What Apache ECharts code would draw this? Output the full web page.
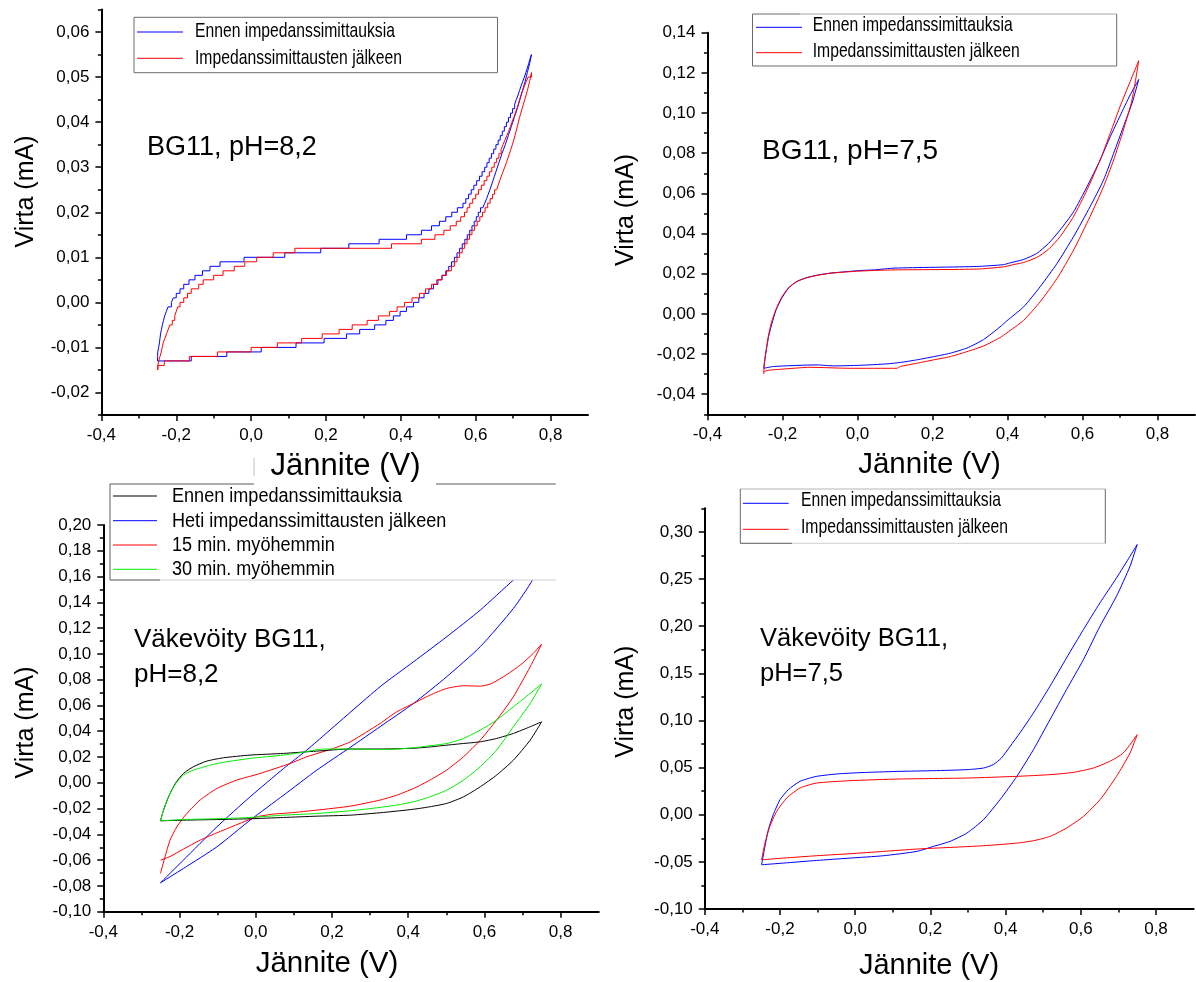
<!DOCTYPE html>
<html><head><meta charset="utf-8">
<script src="https://cdn.jsdelivr.net/npm/echarts@6.0.0/dist/echarts.min.js"></script>
<style>html,body{margin:0;padding:0;background:#fff}#c{width:1196px;height:982px}</style>
</head><body><div id="c"></div>
<script>
// ---------------- DATA (voltage V, current mA) ----------------
const xTickValues = [-0.4,-0.2,0,0.2,0.4,0.6,0.8];
const xMinorValues = [-0.3,-0.1,0.1,0.3,0.5,0.7];
const p1_yTicks = [-0.02,-0.01,0,0.01,0.02,0.03,0.04,0.05,0.06];
const p1_yMinor = [-0.025,-0.015,-0.005,0.005,0.015,0.025,0.035,0.045,0.055,0.065];
const p2_yTicks = [-0.04,-0.02,0,0.02,0.04,0.06,0.08,0.10,0.12,0.14];
const p2_yMinor = [-0.05,-0.03,-0.01,0.01,0.03,0.05,0.07,0.09,0.11,0.13];
const p3_yTicks = [-0.10,-0.08,-0.06,-0.04,-0.02,0,0.02,0.04,0.06,0.08,0.10,0.12,0.14,0.16,0.18,0.20];
const p3_yMinor = [-0.09,-0.07,-0.05,-0.03,-0.01,0.01,0.03,0.05,0.07,0.09,0.11,0.13,0.15,0.17,0.19];
const p4_yTicks = [-0.10,-0.05,0,0.05,0.10,0.15,0.20,0.25,0.30];
const p4_yMinor = [-0.075,-0.025,0.025,0.075,0.125,0.175,0.225,0.275,0.325];

const legendNames2 = ['Ennen impedanssimittauksia','Impedanssimittausten jälkeen'];
const legendNames4 = ['Ennen impedanssimittauksia','Heti impedanssimittausten jälkeen','15 min. myöhemmin','30 min. myöhemmin'];
const panelTitles = [['BG11, pH=8,2'],['BG11, pH=7,5'],['Väkevöity BG11,','pH=8,2'],['Väkevöity BG11,','pH=7,5']];

// Panel 1: BG11 pH 8,2 (stepped, 0.001 mA resolution: [V where level starts, level])
const p1_ennen_fwd = [[-0.250,-0.013],[-0.2497,-0.012],[-0.2495,-0.011],[-0.247,-0.010],[-0.245,-0.009],[-0.2435,-0.008],[-0.242,-0.007],[-0.2395,-0.006],[-0.237,-0.005],[-0.234,-0.004],[-0.231,-0.003],[-0.2265,-0.002],[-0.222,-0.001],[-0.213,0.000],[-0.208,0.001],[-0.200,0.002],[-0.190,0.003],[-0.180,0.004],[-0.166,0.005],[-0.150,0.006],[-0.130,0.007],[-0.110,0.008],[-0.083,0.009],[-0.019,0.010],[0.090,0.011],[0.186,0.012],[0.261,0.013],[0.342,0.014],[0.415,0.015],[0.455,0.016],[0.482,0.017],[0.503,0.018],[0.520,0.019],[0.536,0.020],[0.551,0.021],[0.566,0.022],[0.5735,0.023],[0.581,0.024],[0.588,0.025],[0.595,0.026],[0.6025,0.027],[0.610,0.028],[0.617,0.029],[0.624,0.030],[0.630,0.031],[0.636,0.032],[0.642,0.033],[0.648,0.034],[0.654,0.035],[0.660,0.036],[0.6655,0.037],[0.671,0.038],[0.6765,0.039],[0.682,0.040],[0.6875,0.041],[0.693,0.042],[0.6985,0.043],[0.704,0.044],[0.7085,0.045],[0.713,0.046],[0.717,0.047],[0.721,0.048],[0.7255,0.049],[0.730,0.050],[0.734,0.051],[0.738,0.052],[0.7415,0.053],[0.745,0.054],[0.749,0.055]];
const p1_ennen_rev = [[0.749,0.055],[0.7465,0.054],[0.744,0.053],[0.741,0.052],[0.738,0.051],[0.735,0.050],[0.732,0.049],[0.7285,0.048],[0.725,0.047],[0.7215,0.046],[0.718,0.045],[0.7145,0.044],[0.711,0.043],[0.707,0.042],[0.703,0.041],[0.699,0.040],[0.695,0.039],[0.691,0.038],[0.687,0.037],[0.683,0.036],[0.679,0.035],[0.6745,0.034],[0.670,0.033],[0.666,0.032],[0.662,0.031],[0.658,0.030],[0.654,0.029],[0.650,0.028],[0.646,0.027],[0.642,0.026],[0.638,0.025],[0.6335,0.024],[0.629,0.023],[0.624,0.022],[0.619,0.021],[0.613,0.020],[0.607,0.019],[0.6015,0.018],[0.596,0.017],[0.590,0.016],[0.584,0.015],[0.5775,0.014],[0.571,0.013],[0.564,0.012],[0.557,0.011],[0.550,0.010],[0.543,0.009],[0.5355,0.008],[0.528,0.007],[0.520,0.006],[0.510,0.005],[0.499,0.004],[0.487,0.003],[0.475,0.002],[0.462,0.001],[0.448,0.000],[0.434,-0.001],[0.415,-0.002],[0.398,-0.003],[0.380,-0.004],[0.360,-0.005],[0.330,-0.006],[0.290,-0.007],[0.255,-0.008],[0.195,-0.009],[0.120,-0.010],[0.027,-0.011],[-0.065,-0.012],[-0.160,-0.013],[-0.250,-0.013]];
const p1_jalkeen_fwd = [[-0.250,-0.015],[-0.249,-0.014],[-0.247,-0.013],[-0.2435,-0.012],[-0.240,-0.011],[-0.2375,-0.010],[-0.235,-0.009],[-0.2305,-0.008],[-0.226,-0.007],[-0.2215,-0.006],[-0.217,-0.005],[-0.2105,-0.004],[-0.204,-0.003],[-0.200,-0.002],[-0.196,-0.001],[-0.190,0.000],[-0.180,0.001],[-0.170,0.002],[-0.160,0.003],[-0.140,0.004],[-0.128,0.005],[-0.100,0.006],[-0.075,0.007],[-0.045,0.008],[-0.017,0.009],[0.015,0.010],[0.059,0.011],[0.117,0.012],[0.375,0.013],[0.455,0.014],[0.491,0.015],[0.515,0.016],[0.532,0.017],[0.548,0.018],[0.560,0.019],[0.570,0.020],[0.577,0.021],[0.584,0.022],[0.592,0.023],[0.600,0.024],[0.6075,0.025],[0.615,0.026],[0.6225,0.027],[0.630,0.028],[0.6365,0.029],[0.643,0.030],[0.6495,0.031],[0.656,0.032],[0.662,0.033],[0.668,0.034],[0.673,0.035],[0.678,0.036],[0.683,0.037],[0.688,0.038],[0.6925,0.039],[0.697,0.040],[0.7015,0.041],[0.706,0.042],[0.710,0.043],[0.714,0.044],[0.7175,0.045],[0.721,0.046],[0.7255,0.047],[0.730,0.048],[0.735,0.049],[0.740,0.050],[0.749,0.051]];
const p1_jalkeen_rev = [[0.749,0.051],[0.7465,0.050],[0.744,0.049],[0.741,0.048],[0.738,0.047],[0.7345,0.046],[0.731,0.045],[0.7275,0.044],[0.724,0.043],[0.7205,0.042],[0.717,0.041],[0.714,0.040],[0.711,0.039],[0.708,0.038],[0.705,0.037],[0.7015,0.036],[0.698,0.035],[0.694,0.034],[0.690,0.033],[0.686,0.032],[0.682,0.031],[0.6775,0.030],[0.673,0.029],[0.6685,0.028],[0.664,0.027],[0.660,0.026],[0.656,0.025],[0.6505,0.024],[0.645,0.023],[0.6385,0.022],[0.632,0.021],[0.625,0.020],[0.618,0.019],[0.611,0.018],[0.604,0.017],[0.597,0.016],[0.590,0.015],[0.5835,0.014],[0.577,0.013],[0.5705,0.012],[0.564,0.011],[0.557,0.010],[0.550,0.009],[0.543,0.008],[0.535,0.007],[0.522,0.006],[0.510,0.005],[0.496,0.004],[0.482,0.003],[0.466,0.002],[0.450,0.001],[0.430,0.000],[0.410,-0.001],[0.390,-0.002],[0.370,-0.003],[0.340,-0.004],[0.310,-0.005],[0.270,-0.006],[0.235,-0.007],[0.190,-0.008],[0.135,-0.009],[0.070,-0.010],[0.000,-0.011],[-0.090,-0.012],[-0.165,-0.013],[-0.232,-0.014],[-0.249,-0.015]];

// Panel 2: BG11 pH 7,5
const p2_ennen_fwd = [[-0.250,-0.0270],[-0.246,-0.0213],[-0.237,-0.0113],[-0.228,-0.0047],[-0.217,0.0020],[-0.202,0.0078],[-0.184,0.0128],[-0.162,0.0161],[-0.135,0.0181],[-0.104,0.0194],[-0.073,0.0203],[-0.037,0.0209],[0.007,0.0216],[0.043,0.0219],[0.100,0.0228],[0.318,0.0236],[0.389,0.0245],[0.407,0.0254],[0.443,0.0271],[0.478,0.0301],[0.509,0.0350],[0.540,0.0417],[0.576,0.0508],[0.612,0.0633],[0.647,0.0766],[0.674,0.0882],[0.700,0.0985],[0.727,0.1090],[0.750,0.1167]];
const p2_ennen_rev = [[0.750,0.1167],[0.732,0.1048],[0.709,0.0932],[0.683,0.0799],[0.656,0.0666],[0.620,0.0533],[0.576,0.0384],[0.532,0.0251],[0.487,0.0135],[0.443,0.0035],[0.398,-0.0035],[0.380,-0.0065],[0.336,-0.0128],[0.292,-0.0170],[0.247,-0.0196],[0.203,-0.0213],[0.158,-0.0229],[0.114,-0.0242],[0.078,-0.0249],[0.007,-0.0256],[-0.064,-0.0259],[-0.108,-0.0254],[-0.224,-0.0262],[-0.250,-0.0271]];
const p2_jalkeen_fwd = [[-0.250,-0.0300],[-0.248,-0.0240],[-0.238,-0.0113],[-0.229,-0.0040],[-0.218,0.0020],[-0.203,0.0080],[-0.185,0.0128],[-0.163,0.0160],[-0.135,0.0180],[-0.104,0.0193],[-0.073,0.0202],[-0.037,0.0208],[0.007,0.0213],[0.043,0.0216],[0.100,0.0219],[0.318,0.0223],[0.389,0.0234],[0.420,0.0247],[0.443,0.0256],[0.478,0.0281],[0.509,0.0321],[0.540,0.0384],[0.576,0.0484],[0.612,0.0617],[0.647,0.0766],[0.674,0.0899],[0.700,0.1032],[0.727,0.1156],[0.750,0.1261]];
const p2_jalkeen_rev = [[0.750,0.1261],[0.732,0.1065],[0.709,0.0915],[0.683,0.0766],[0.656,0.0633],[0.620,0.0484],[0.576,0.0317],[0.532,0.0176],[0.487,0.0060],[0.443,-0.0032],[0.398,-0.0095],[0.380,-0.0118],[0.336,-0.0160],[0.292,-0.0188],[0.247,-0.0213],[0.203,-0.0229],[0.158,-0.0246],[0.114,-0.0262],[0.105,-0.0271],[-0.020,-0.0271],[-0.126,-0.0266],[-0.206,-0.0276],[-0.242,-0.0282],[-0.250,-0.0290]];

// Panel 3: Väkevöity BG11 pH 8,2
const p3_ennen_fwd = [[-0.250,-0.0295],[-0.242,-0.0212],[-0.229,-0.0109],[-0.211,-0.0005],[-0.190,0.0072],[-0.164,0.0124],[-0.129,0.0168],[-0.085,0.0194],[-0.015,0.0215],[0.073,0.0228],[0.160,0.0246],[0.248,0.0262],[0.326,0.0262],[0.414,0.0268],[0.457,0.0278],[0.501,0.0292],[0.545,0.0305],[0.589,0.0318],[0.632,0.0344],[0.676,0.0383],[0.720,0.0435],[0.750,0.0473]];
const p3_ennen_rev = [[0.750,0.0473],[0.720,0.0331],[0.676,0.0176],[0.632,0.0060],[0.589,-0.0031],[0.545,-0.0109],[0.501,-0.0160],[0.457,-0.0186],[0.414,-0.0205],[0.335,-0.0230],[0.248,-0.0251],[0.160,-0.0259],[0.073,-0.0269],[-0.015,-0.0279],[-0.102,-0.0285],[-0.190,-0.0290],[-0.250,-0.0295]];
const p3_heti_fwd = [[-0.250,-0.0776],[-0.190,-0.0600],[-0.102,-0.0342],[-0.015,-0.0109],[0.073,0.0111],[0.134,0.0254],[0.160,0.0320],[0.326,0.0745],[0.414,0.0939],[0.501,0.1133],[0.589,0.1340],[0.676,0.1573],[0.750,0.1750]];
const p3_heti_rev = [[0.750,0.1750],[0.726,0.1573],[0.676,0.1353],[0.589,0.1056],[0.501,0.0823],[0.414,0.0616],[0.326,0.0435],[0.248,0.0275],[0.160,0.0098],[0.073,-0.0096],[-0.015,-0.0290],[-0.102,-0.0497],[-0.190,-0.0665],[-0.250,-0.0776]];
const p3_15min_fwd = [[-0.250,-0.0703],[-0.238,-0.0574],[-0.225,-0.0445],[-0.207,-0.0341],[-0.181,-0.0238],[-0.146,-0.0134],[-0.102,-0.0044],[-0.050,0.0021],[0.011,0.0072],[0.090,0.0150],[0.134,0.0202],[0.204,0.0267],[0.248,0.0318],[0.326,0.0460],[0.370,0.0551],[0.414,0.0616],[0.457,0.0680],[0.501,0.0732],[0.545,0.0753],[0.589,0.0750],[0.615,0.0766],[0.650,0.0823],[0.694,0.0913],[0.728,0.1004],[0.750,0.1076]];
const p3_15min_rev = [[0.750,0.1076],[0.720,0.0900],[0.676,0.0668],[0.632,0.0487],[0.589,0.0331],[0.545,0.0202],[0.501,0.0099],[0.457,0.0021],[0.414,-0.0044],[0.370,-0.0096],[0.326,-0.0134],[0.248,-0.0181],[0.160,-0.0212],[0.090,-0.0233],[0.046,-0.0243],[0.003,-0.0264],[-0.059,-0.0336],[-0.102,-0.0388],[-0.146,-0.0445],[-0.190,-0.0515],[-0.225,-0.0572],[-0.250,-0.0600]];
const p3_30min_fwd = [[-0.250,-0.0295],[-0.242,-0.0212],[-0.229,-0.0109],[-0.211,-0.0010],[-0.190,0.0060],[-0.164,0.0098],[-0.102,0.0150],[-0.015,0.0189],[0.073,0.0215],[0.116,0.0233],[0.178,0.0262],[0.248,0.0262],[0.326,0.0258],[0.370,0.0262],[0.414,0.0272],[0.501,0.0305],[0.545,0.0344],[0.589,0.0409],[0.632,0.0487],[0.676,0.0590],[0.720,0.0694],[0.750,0.0766]];
const p3_30min_rev = [[0.750,0.0766],[0.720,0.0616],[0.676,0.0435],[0.632,0.0254],[0.589,0.0125],[0.545,0.0021],[0.501,-0.0057],[0.457,-0.0109],[0.414,-0.0147],[0.370,-0.0173],[0.326,-0.0191],[0.248,-0.0217],[0.160,-0.0238],[0.073,-0.0251],[-0.015,-0.0269],[-0.102,-0.0279],[-0.190,-0.0285],[-0.250,-0.0295]];

// Panel 4: Väkevöity BG11 pH 7,5
const p4_ennen_fwd = [[-0.249,-0.0531],[-0.240,-0.0336],[-0.231,-0.0159],[-0.218,0.0000],[-0.200,0.0159],[-0.178,0.0265],[-0.147,0.0354],[-0.1025,0.0407],[-0.040,0.0435],[0.0305,0.0449],[0.119,0.0460],[0.208,0.0467],[0.297,0.0478],[0.341,0.0495],[0.367,0.0531],[0.389,0.0602],[0.412,0.0725],[0.438,0.0867],[0.474,0.1079],[0.518,0.1362],[0.562,0.1663],[0.607,0.1964],[0.651,0.2247],[0.695,0.2512],[0.731,0.2742],[0.750,0.2866]];
const p4_ennen_rev = [[0.750,0.2866],[0.731,0.2636],[0.695,0.2318],[0.651,0.1999],[0.607,0.1645],[0.562,0.1327],[0.518,0.1008],[0.474,0.0690],[0.430,0.0407],[0.385,0.0159],[0.341,-0.0053],[0.297,-0.0195],[0.252,-0.0283],[0.208,-0.0336],[0.164,-0.0389],[0.075,-0.0435],[-0.014,-0.0460],[-0.1025,-0.0485],[-0.191,-0.0513],[-0.249,-0.0531]];
const p4_jalkeen_fwd = [[-0.249,-0.0478],[-0.240,-0.0301],[-0.227,-0.0124],[-0.209,0.0035],[-0.182,0.0177],[-0.147,0.0283],[-0.1025,0.0336],[-0.014,0.0361],[0.119,0.0379],[0.297,0.0389],[0.430,0.0407],[0.518,0.0425],[0.580,0.0449],[0.633,0.0495],[0.677,0.0566],[0.713,0.0655],[0.750,0.0849]];
const p4_jalkeen_rev = [[0.750,0.0849],[0.731,0.0655],[0.695,0.0407],[0.651,0.0159],[0.607,-0.0018],[0.562,-0.0142],[0.518,-0.0230],[0.474,-0.0276],[0.430,-0.0301],[0.341,-0.0329],[0.252,-0.0347],[0.164,-0.0364],[0.075,-0.0389],[-0.014,-0.0414],[-0.1025,-0.0435],[-0.191,-0.0460],[-0.249,-0.0478]];

// ---------------- LAYOUT / STYLE ----------------
const FONT = '"Liberation Sans", Arial, sans-serif';
const BLUE = '#0000ff', RED = '#ff0000', GREEN = '#00ee00', BLACK = '#000000';
const TICK_FS = 17;
const panels = [
  {grid:{left:101.4, top:9.5, width:486.6, height:405.5}, ymin:-0.025, ymax:0.065, yT:p1_yTicks, yM:p1_yMinor, yd:2},
  {grid:{left:707.5, top:32.7, width:487.5, height:381.6}, ymin:-0.05, ymax:0.14, yT:p2_yTicks, yM:p2_yMinor, yd:2},
  {grid:{left:103.3, top:525, width:495.5, height:386.7}, ymin:-0.10, ymax:0.20, yT:p3_yTicks, yM:p3_yMinor, yd:2},
  {grid:{left:704.8, top:508.3, width:488.8, height:400.7}, ymin:-0.10, ymax:0.325, yT:p4_yTicks, yM:p4_yMinor, yd:2}
];
function makeFmt(list, d){
  return function(v){
    for (const t of list) if (Math.abs(t - v) < 1e-9) return (Math.abs(t) < 1e-12 ? 0 : t).toFixed(d).replace('.', ',');
    return '';
  };
}
const grids = [], xAxes = [], yAxes = [], xMin = [], yMin = [];
panels.forEach((p, i) => {
  grids.push(Object.assign({outerBoundsMode:'none', containLabel:false}, p.grid));
  xAxes.push({type:'value', gridIndex:i, min:-0.4, max:0.9, interval:0.2, position:'bottom',
    axisLine:{show:true, onZero:false, lineStyle:{color:'#000', width:2}},
    axisTick:{show:true, inside:false, length:6, lineStyle:{color:'#000', width:1.5}, customValues:xTickValues},
    axisLabel:{show:true, margin:12, color:'#000', fontFamily:FONT, fontSize:TICK_FS, customValues:xTickValues, formatter:makeFmt(xTickValues,1)},
    splitLine:{show:false}});
  xMin.push({type:'value', gridIndex:i, min:-0.4, max:0.9, interval:0.1, position:'bottom',
    axisLine:{show:false, onZero:false},
    axisTick:{show:true, inside:false, length:3.5, lineStyle:{color:'#000', width:1.5}, customValues:xMinorValues},
    axisLabel:{show:false}, splitLine:{show:false}});
  yAxes.push({type:'value', gridIndex:i, min:p.ymin, max:p.ymax, position:'left',
    axisLine:{show:true, onZero:false, lineStyle:{color:'#000', width:2}},
    axisTick:{show:true, inside:false, length:6, lineStyle:{color:'#000', width:1.5}, customValues:p.yT},
    axisLabel:{show:true, margin:12, color:'#000', fontFamily:FONT, fontSize:TICK_FS, customValues:p.yT, formatter:makeFmt(p.yT,p.yd)},
    splitLine:{show:false}});
  yMin.push({type:'value', gridIndex:i, min:p.ymin, max:p.ymax, position:'left',
    axisLine:{show:false, onZero:false},
    axisTick:{show:true, inside:false, length:3.5, lineStyle:{color:'#000', width:1.5}, customValues:p.yM},
    axisLabel:{show:false}, splitLine:{show:false}});
});

function ser(name, i, fwd, rev, color, step){
  return {type:'line', name, xAxisIndex:i, yAxisIndex:i, data:fwd.concat(rev), symbol:'none', showSymbol:false,
    step: step || false, smooth: step ? false : 0.2, lineStyle:{color, width:1}, itemStyle:{color}, animation:false, silent:true, clip:true};
}
const series = [
  ser(legendNames2[0],0,p1_ennen_fwd,p1_ennen_rev,BLUE,'end'),
  ser(legendNames2[1],0,p1_jalkeen_fwd,p1_jalkeen_rev,RED,'end'),
  ser(legendNames2[0],1,p2_ennen_fwd,p2_ennen_rev,BLUE),
  ser(legendNames2[1],1,p2_jalkeen_fwd,p2_jalkeen_rev,RED),
  ser(legendNames4[1],2,p3_heti_fwd,p3_heti_rev,BLUE),
  ser(legendNames4[2],2,p3_15min_fwd,p3_15min_rev,RED),
  ser(legendNames4[0],2,p3_ennen_fwd,p3_ennen_rev,BLACK),
  ser(legendNames4[3],2,p3_30min_fwd,p3_30min_rev,GREEN),
  ser(legendNames2[0],3,p4_ennen_fwd,p4_ennen_rev,BLUE),
  ser(legendNames2[1],3,p4_jalkeen_fwd,p4_jalkeen_rev,RED)
];

// ---------------- GRAPHIC (legends, annotations, axis titles) ----------------
const G = [];
function text(x, y, s, size, o){
  o = o || {};
  const el = {type:'text', x, y, z:o.z || 103, silent:true,
    style:{text:s, font: size + 'px ' + FONT, fill:'#000', align:o.align || 'left', verticalAlign:'middle'}};
  if (o.rot) el.rotation = o.rot;
  if (o.sx) el.scaleX = o.sx;
  G.push(el);
}
function line(x1, y1, x2, y2, color, w, z){
  G.push({type:'line', silent:true, z:z || 101, shape:{x1, y1, x2, y2}, style:{stroke:color, lineWidth:w || 1}});
}
function rect(x, y, w, h, z){
  G.push({type:'rect', silent:true, z:z || 100, shape:{x, y, width:w, height:h}, style:{fill:'#fff', stroke:null}});
}
// Legend panel 1
rect(134, 17.3, 363.5, 55.4);
line(134, 17.3, 497.5, 17.3, '#6a6a6a'); line(134, 72.7, 497.5, 72.7, '#6a6a6a');
line(134, 17.3, 134, 72.7, '#6a6a6a'); line(497.5, 17.3, 497.5, 72.7, '#6a6a6a');
line(137, 32, 183, 32, BLUE); line(137, 58.3, 183, 58.3, RED);
text(195, 31.5, legendNames2[0], 21, {sx:0.748}); text(195, 57.8, legendNames2[1], 21, {sx:0.748});
// Legend panel 2
rect(752.5, 14, 364.2, 52);
line(752.5, 14, 800, 14, '#6a6a6a'); line(800, 14, 1116.7, 14, '#a8a8a8');
line(752.5, 66, 1116.7, 66, '#6a6a6a');
line(752.5, 14, 752.5, 66, '#6a6a6a'); line(1116.7, 14, 1116.7, 66, '#6a6a6a');
line(756, 27.3, 802, 27.3, BLUE); line(756, 52.7, 802, 52.7, RED);
text(812.7, 25.5, legendNames2[0], 21, {sx:0.748}); text(812.7, 51, legendNames2[1], 21, {sx:0.748});
// Legend panel 3
rect(110, 484, 445.7, 96);
line(110, 484, 555.7, 484, '#5a5a5a');
line(110, 484, 110, 580, '#5a5a5a');
line(110, 580, 555.7, 580, '#cfcfcf'); line(110, 580, 160, 580, '#6a6a6a');
const p3Colors = [BLACK, BLUE, RED, GREEN], p3Y = [496, 520.7, 545, 569.3];
legendNames4.forEach((n, k) => { line(113, p3Y[k], 157, p3Y[k], p3Colors[k]); text(172, p3Y[k] + 0.5, n, 19.5, {sx:0.927}); });
// Legend panel 4
rect(740.3, 489, 365, 54.3);
line(740.3, 489, 1105.3, 489, '#b5b5b5');
line(740.3, 543.3, 1105.3, 543.3, '#cfcfcf'); line(740.3, 543.3, 792, 543.3, '#6a6a6a');
line(740.3, 489, 740.3, 543.3, '#6a6a6a'); line(1105.3, 489, 1105.3, 543.3, '#6a6a6a');
line(743, 503.3, 788.7, 503.3, BLUE); line(743, 529.3, 788.7, 529.3, RED);
text(801, 500.5, legendNames2[0], 21, {sx:0.748}); text(801, 527.5, legendNames2[1], 21, {sx:0.748});
// Panel annotations
text(147, 148, panelTitles[0][0], 27);
text(762, 151, panelTitles[1][0], 28);
text(134, 640, panelTitles[2][0], 26); text(134, 675, panelTitles[2][1], 26);
text(760, 639, panelTitles[3][0], 25.5); text(760, 674, panelTitles[3][1], 25.5);
// Axis titles
const R = Math.PI / 2;
text(26, 191.5, 'Virta (mA)', 25, {align:'center', rot:R});
text(626.5, 210, 'Virta (mA)', 25, {align:'center', rot:R});
text(26, 722.5, 'Virta (mA)', 25, {align:'center', rot:R});
text(626.5, 701.7, 'Virta (mA)', 25, {align:'center', rot:R});
rect(254, 452, 182, 35, 104);
line(254, 458, 254, 476, '#c0c0c0', 1, 105);
text(345.5, 466, 'Jännite (V)', 31, {align:'center', z:106});
text(929.5, 465, 'Jännite (V)', 29.5, {align:'center'});
text(327, 964, 'Jännite (V)', 29.5, {align:'center'});
text(929, 965.5, 'Jännite (V)', 29, {align:'center'});

const chart = echarts.init(document.getElementById('c'), null, {renderer:'canvas'});
chart.setOption({
  animation:false,
  backgroundColor:'#ffffff',
  grid:grids,
  xAxis:xAxes.concat(xMin),
  yAxis:yAxes.concat(yMin),
  series,
  graphic:{elements:G}
});
</script></body></html>
